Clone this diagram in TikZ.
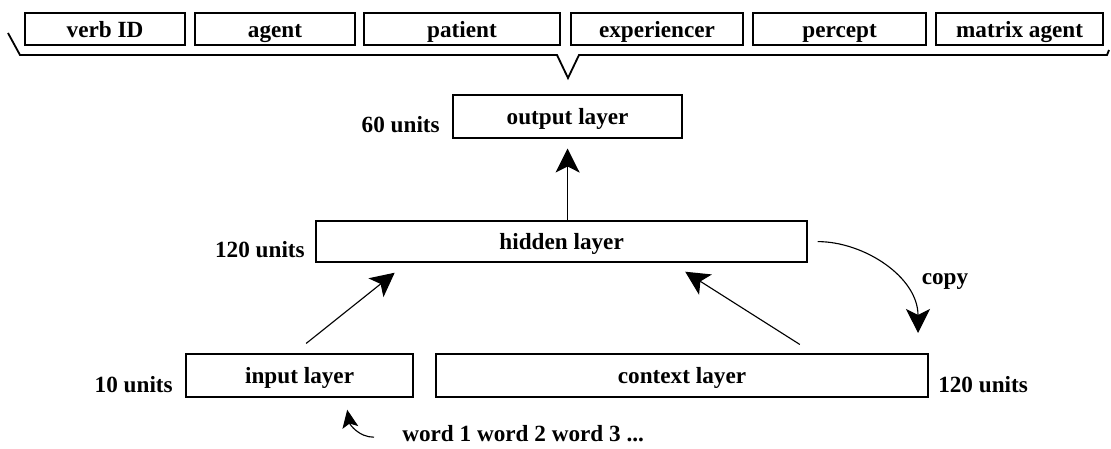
\documentclass[tikz,border=0pt]{standalone}
\usepackage{fontspec}
\setmainfont{Liberation Serif}
\usetikzlibrary{arrows.meta}

\begin{document}
\begin{tikzpicture}[
    every node/.style={font=\fontsize{16.5}{19}\selectfont\bfseries},
    slot/.style={draw, line width=0.9pt, minimum height=0.8cm, inner sep=0pt, text height=2.5ex, text depth=0pt},
    layer/.style={draw, line width=0.9pt, minimum height=1.075cm, inner sep=0pt, text height=2.5ex, text depth=0pt},
    units/.style={inner sep=0pt, text height=1.6ex, text depth=0.35ex},
    bigarrow/.style={-{Stealth[length=0.6cm,width=0.6cm,inset=0.15cm]}, line width=0.8pt},
    smallarrow/.style={-{Stealth[length=0.45cm,width=0.4cm,inset=0.1cm]}, line width=0.8pt}
  ]
    \useasboundingbox (0,0) rectangle (27.775,11.2);

    \node[slot, minimum width=4cm] (verb) at (2.625,10.475) {verb ID};
    \node[slot, minimum width=4cm] (agent) at (6.875,10.475) {agent};
    \node[slot, minimum width=4.9cm] (patient) at (11.55,10.475) {patient};
    \node[slot, minimum width=4.3cm] (experiencer) at (16.425,10.475) {experiencer};
    \node[slot, minimum width=4.325cm] (percept) at (20.99,10.475) {percept};
    \node[slot, minimum width=4.175cm] (matrix) at (25.49,10.475) {matrix agent};

    \draw[line width=1.3pt] (0.2,10.375) -- (0.5,9.825) -- (13.925,9.825) -- (14.2,9.25)
        -- (14.475,9.825) -- (27.675,9.825) -- (27.725,9.95);

    \node[layer, minimum width=5.725cm] (output) at (14.19,8.29) {output layer};
    \node[units, anchor=east] (u60) at (11.0,8.0) {60 units};

    \node[layer, minimum width=12.275cm, minimum height=1.025cm] (hidden) at (14.04,5.16) {hidden layer};
    \node[units, anchor=east] (u120h) at (7.625,4.875) {120 units};

    \node[layer, minimum width=5.675cm] (input) at (7.49,1.81) {input layer};
    \node[units, anchor=east] (u10) at (4.325,1.5) {10 units};

    \node[layer, minimum width=12.3cm] (context) at (17.05,1.81) {context layer};
    \node[units, anchor=west] (u120c) at (23.45,1.5) {120 units};

    \node[units] (copy) at (23.625,4.2) {copy};
    \node[units, anchor=west] (words) at (10.05,0.27) {word 1 word 2 word 3 ...};
    \coordinate (copytip) at (22.95,2.875);

    \draw[bigarrow, shorten >=0.25cm] (hidden.north -| output.south) -- (output.south);
    \draw[bigarrow, shorten <=0.4cm, shorten >=0.4cm] ([xshift=-0.15cm]input.north) -- ([xshift=-3.86cm]hidden.south);
    \draw[bigarrow, shorten <=0.42cm, shorten >=0.42cm] ([xshift=3.3cm]context.north) -- ([xshift=2.735cm]hidden.south);
    \draw[bigarrow, shorten <=0.25cm] (hidden.east) to[out=0, in=90] (copytip);
    \draw[smallarrow] ([xshift=-0.7cm]words.west) to[out=180, in=-80] ([shift={(1.19,-0.3)}]input.south);
  \end{tikzpicture}
\end{document}
